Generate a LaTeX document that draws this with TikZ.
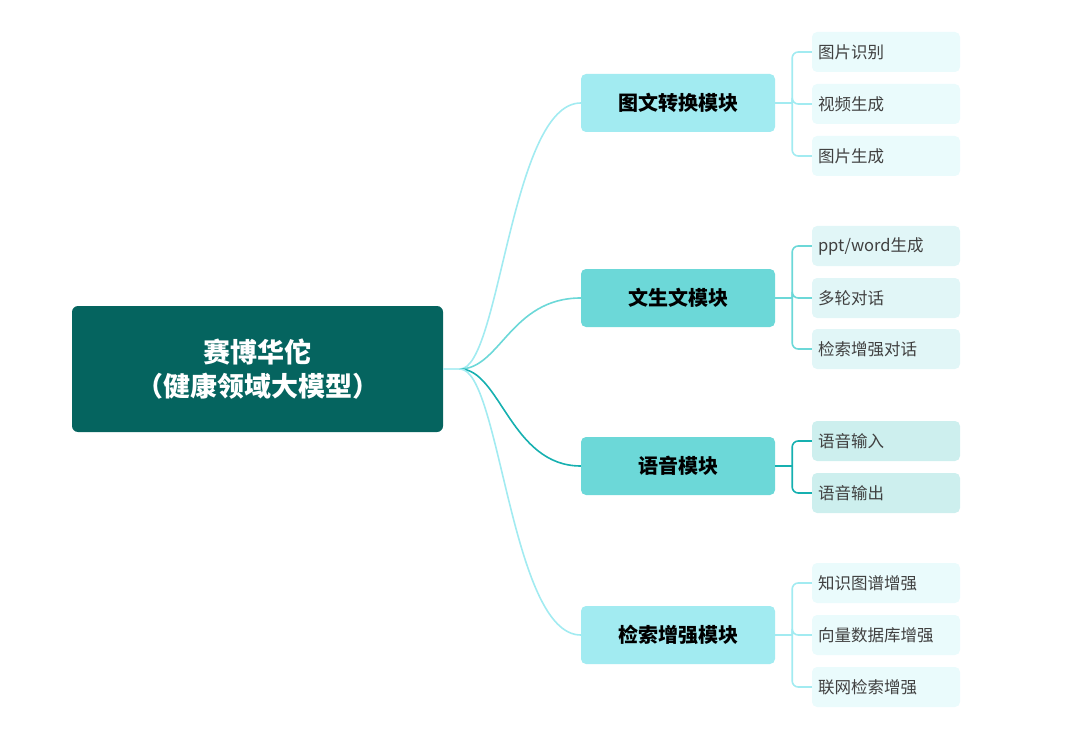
\documentclass[tikz,border=0pt]{standalone}
\usepackage{fontspec}
\setmainfont{Noto Sans CJK SC}
\usetikzlibrary{calc}
\definecolor{rootc}{HTML}{05645F}
\definecolor{lightc}{HTML}{A2EBF1}
\definecolor{midc}{HTML}{6CD8D8}
\definecolor{darkl}{HTML}{16B0B0}
\definecolor{leafa}{HTML}{EAFBFC}
\definecolor{leafb}{HTML}{E1F6F7}
\definecolor{leafc}{HTML}{CDEFEE}
\tikzset{
  root/.style={rectangle,rounded corners=6pt,fill=rootc,text=white,font=\fontsize{27}{34}\selectfont\bfseries,
    minimum width=371pt,minimum height=126pt,align=center},
  branch/.style={rectangle,rounded corners=5pt,fill=#1,font=\fontsize{20}{24}\selectfont\bfseries,
    minimum width=194pt,minimum height=58pt},
  leaf/.style={rectangle,rounded corners=5pt,fill=#1,text=black!75,font=\fontsize{16.5}{20}\selectfont,
    minimum width=148pt,minimum height=40pt,text width=136pt,align=left},
  link/.style={line width=1.6pt,draw=#1},
}
\begin{document}
\begin{tikzpicture}[x=1pt,y=-1pt]
\useasboundingbox (0,0) rectangle (1079,738);
\node[root] (rt) at (257.5,369) {赛博华佗\\（健康领域大模型）};
\coordinate (hub) at (460,369);
\draw[link=lightc!80] (rt.east) -- (hub);

\node[branch=lightc] (b1) at (678,103) {图文转换模块};
\node[branch=midc] (b2) at (678,298) {文生文模块};
\node[branch=midc] (b3) at (678,466) {语音模块};
\node[branch=lightc] (b4) at (678,635) {检索增强模块};

\node[leaf=leafa] (l11) at (886,52) {图片识别};
\node[leaf=leafa] (l12) at (886,104) {视频生成};
\node[leaf=leafa] (l13) at (886,156) {图片生成};
\node[leaf=leafb] (l21) at (886,246) {ppt/word生成};
\node[leaf=leafb] (l22) at (886,298) {多轮对话};
\node[leaf=leafb] (l23) at (886,349) {检索增强对话};
\node[leaf=leafc] (l31) at (886,441) {语音输入};
\node[leaf=leafc] (l32) at (886,493) {语音输出};
\node[leaf=leafa] (l41) at (886,583) {知识图谱增强};
\node[leaf=leafa] (l42) at (886,635) {向量数据库增强};
\node[leaf=leafa] (l43) at (886,687) {联网检索增强};

% root to modules
\foreach \b/\c in {b1/lightc,b2/midc,b3/darkl,b4/lightc}
  \draw[link=\c] (hub) .. controls ($(hub)+(40,0)$) and ($(\b.west)+(-70,0)$) .. (\b.west);

% modules to leaves
\foreach \b/\c/\l in {b1/lightc/{l11,l12,l13},b2/midc/{l21,l22,l23},b3/darkl/{l31,l32},b4/lightc/{l41,l42,l43}}{
  \coordinate (j) at ($(\b.east)+(17,0)$);
  \draw[link=\c] (\b.east) -- (j);
  \foreach \x in \l
    \draw[link=\c,rounded corners=6pt] (j) |- (\x.west);
}
\end{tikzpicture}
\end{document}
